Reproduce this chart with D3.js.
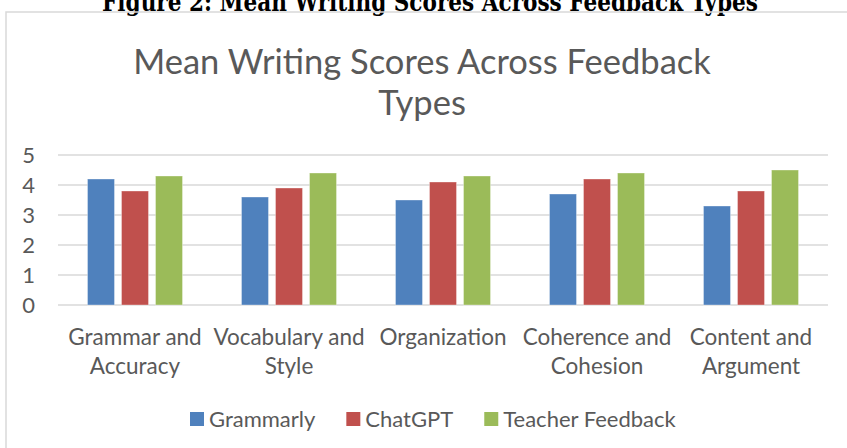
<!DOCTYPE html>
<html>
<head>
<meta charset="utf-8">
<script src="https://cdn.jsdelivr.net/npm/d3@7"></script>
<style>
  body { margin: 0; background: #fff; overflow: hidden; }
  svg { display: block; }
  text { font-family: Lato, "Open Sans", sans-serif; fill: #595959; }
</style>
</head>
<body>
<svg width="847" height="448"></svg>
<script>
// chart data
var categories = [
    ["Grammar and", "Accuracy"],
    ["Vocabulary and", "Style"],
    ["Organization"],
    ["Coherence and", "Cohesion"],
    ["Content and", "Argument"]
];
var seriesNames = ["Grammarly", "ChatGPT", "Teacher Feedback"];
var grammarly = [4.2, 3.6, 3.5, 3.7, 3.3];
var chatgpt = [3.8, 3.9, 4.1, 4.2, 3.8];
var teacher = [4.3, 4.4, 4.3, 4.4, 4.5];
var yTicks = [0, 1, 2, 3, 4, 5];
var colors = ["#4F81BD", "#C0504D", "#9BBB59"];

var allSeries = [grammarly, chatgpt, teacher];

var svg = d3.select("svg");

// caption above the chart (cut off at the top, as in the source)
svg.append("text")
    .attr("x", 430)
    .attr("y", 11)
    .attr("text-anchor", "middle")
    .attr("textLength", 656)
    .attr("lengthAdjust", "spacingAndGlyphs")
    .style("font-family", "'DejaVu Serif', serif")
    .style("font-weight", "bold")
    .style("font-size", "26px")
    .style("fill", "#000")
    .text("Figure 2: Mean Writing Scores Across Feedback Types");

// chart area border
svg.append("path")
    .attr("d", "M6,448 V12 H847")
    .attr("fill", "none")
    .attr("stroke", "#D9D9D9")
    .attr("stroke-width", 1.5);

// title
var title = svg.append("text")
    .attr("text-anchor", "middle")
    .style("font-size", "34.5px");
title.append("tspan").attr("x", 422).attr("y", 74).text("Mean Writing Scores Across Feedback");
title.append("tspan").attr("x", 422).attr("y", 115).text("Types");

// scales
var x0 = d3.scaleBand()
    .domain(d3.range(categories.length))
    .range([58, 828])
    .paddingInner(0.383)
    .paddingOuter(0.1915);

var x1 = d3.scaleBand()
    .domain(d3.range(seriesNames.length))
    .range([0, x0.bandwidth()])
    .paddingInner(0.206);

var y = d3.scaleLinear()
    .domain([0, 5])
    .range([305, 155]);

// gridlines
svg.append("g")
    .selectAll("line")
    .data(yTicks)
    .enter()
    .append("line")
    .attr("x1", 58)
    .attr("x2", 828)
    .attr("y1", function (d) { return y(d); })
    .attr("y2", function (d) { return y(d); })
    .attr("stroke", "#D9D9D9")
    .attr("stroke-width", 1.5);

// y tick labels
svg.append("g")
    .selectAll("text")
    .data(yTicks)
    .enter()
    .append("text")
    .attr("x", 35)
    .attr("y", function (d) { return y(d); })
    .attr("dy", "0.36em")
    .attr("text-anchor", "end")
    .style("font-size", "22px")
    .text(function (d) { return d; });

// bars
var groups = svg.append("g")
    .selectAll("g")
    .data(categories)
    .enter()
    .append("g")
    .attr("transform", function (d, i) { return "translate(" + x0(i) + ",0)"; });

groups.selectAll("rect")
    .data(function (d, i) {
        return allSeries.map(function (s, j) { return { s: j, v: s[i] }; });
    })
    .enter()
    .append("rect")
    .attr("x", function (d) { return x1(d.s); })
    .attr("width", x1.bandwidth())
    .attr("y", function (d) { return y(d.v); })
    .attr("height", function (d) { return y(0) - y(d.v); })
    .attr("fill", function (d) { return colors[d.s]; })
    .attr("stroke", "rgba(255,255,255,0.35)")
    .attr("stroke-width", 1);

// x category labels
svg.append("g")
    .selectAll("text")
    .data(categories)
    .enter()
    .append("text")
    .attr("text-anchor", "middle")
    .style("font-size", "22.5px")
    .each(function (d, i) {
        var t = d3.select(this);
        d.forEach(function (line, k) {
            t.append("tspan")
                .attr("x", x0(i) + x0.bandwidth() / 2)
                .attr("y", 345 + k * 29)
                .text(line);
        });
    });

// legend
var legend = svg.append("g");
var lx = 190;
seriesNames.forEach(function (name, i) {
    legend.append("rect")
        .attr("x", lx)
        .attr("y", 412)
        .attr("width", 14)
        .attr("height", 14)
        .attr("fill", colors[i]);
    var t = legend.append("text")
        .attr("x", lx + 19)
        .attr("y", 427)
        .style("font-size", "22px")
        .text(name);
    lx += 19 + t.node().getComputedTextLength() + 31;
});
</script>
</body>
</html>
